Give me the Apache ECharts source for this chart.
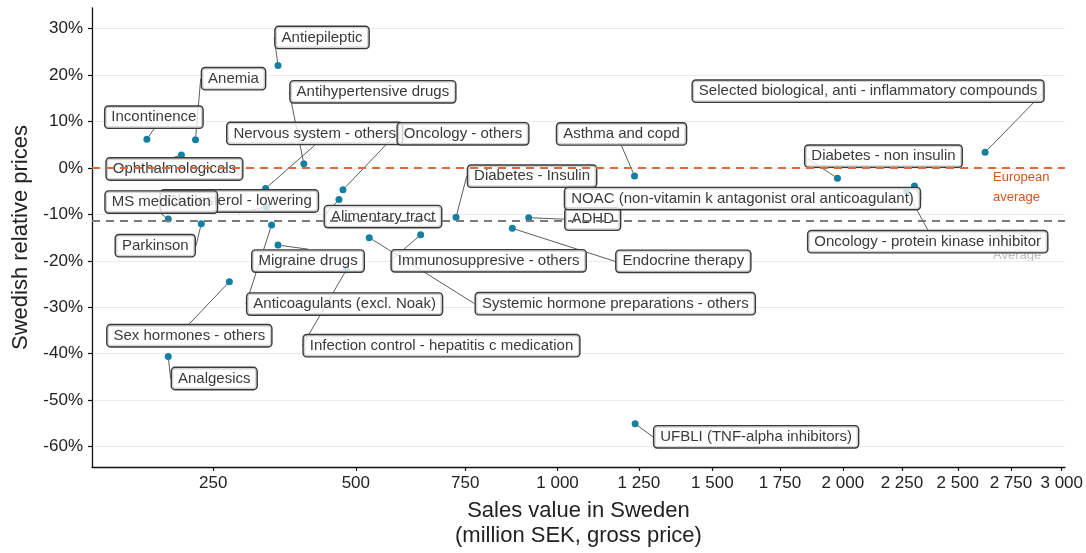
<!DOCTYPE html>
<html><head><meta charset="utf-8">
<script src="https://cdn.jsdelivr.net/npm/echarts@6/dist/echarts.min.js"></script>
<style>html,body{margin:0;padding:0;background:#fff}#c{width:1086px;height:553px}</style>
</head><body><div id="c"></div>
<script>
// ---- data ----
const categories = [
  "Antiepileptic","Anemia","Incontinence","Ophthalmologicals","Antihypertensive drugs",
  "Nervous system - others","Oncology - others","Alimentary tract","Cholesterol - lowering",
  "MS medication","Parkinson","Anticoagulants (excl. Noak)","Migraine drugs",
  "Infection control - hepatitis c medication","Immunosuppresive - others",
  "Systemic hormone preparations - others","Diabetes - Insulin","ADHD","Endocrine therapy",
  "Asthma and copd","Selected biological, anti - inflammatory compounds","Diabetes - non insulin",
  "NOAC (non-vitamin k antagonist oral anticoagulant)","Oncology - protein kinase inhibitor",
  "UFBLI (TNF-alpha inhibitors)","Sex hormones - others","Analgesics"
];
const salesValue = [353,225,163,206,399,332,474,466,333,189,233,342,353,481,642,528,727,918,873,1236,2627,1978,2305,2271,1238,274,189];
const relativePrice = [22.1,6.1,6.2,2.8,0.9,-4.4,-4.7,-6.8,-8.4,-11.0,-12.0,-12.3,-16.6,-21.9,-14.4,-15.0,-10.6,-10.7,-13.0,-1.7,3.4,-2.2,-3.9,-5.0,-55.1,-24.5,-40.6];
const xTicks = [250,500,750,1000,1250,1500,1750,2000,2250,2500,2750,3000];
const yTicks = [-60,-50,-40,-30,-20,-10,0,10,20,30];
const europeanAverage = 0;
const swedishAverage = -11.4;

// label nudges (pixels, label centre relative to point)
const labelNudge = [
  [44,-28],[38,-61],[7,-22],[-7,14],[69,-72],
  [49,-55],[120,-56],[44,17],[-27,-6],
  [-7,-17],[-46,22],[73,79],[30,16],
  [95,76],[68,26],
  [246,66],[76,-41],[64,1.5],[171,33],
  [-13,-42],[-117,-61],[46,-22],
  [-172,12.5],[21,50.5],
  [121,13],[-40,54],[46,22]
];

const xLimits = [105, 3016];
const yLimits = [-64.4, 34.46];

const fmtThousands = v => String(Math.round(v)).replace(/\B(?=(\d{3})+(?!\d))/g, ' ');
const FONT = '"Liberation Sans", Arial, sans-serif';

const chart = echarts.init(document.getElementById('c'), null, {renderer: 'canvas'});
chart.setOption({
  animation: false,
  textStyle: {fontFamily: FONT},
  grid: {left: 92, right: 20, top: 8, bottom: 80, containLabel: false},
  xAxis: {
    type: 'value',
    min: Math.sqrt(xLimits[0]), max: Math.sqrt(xLimits[1]),
    name: 'Sales value in Sweden\n(million SEK, gross price)',
    nameLocation: 'middle', nameGap: 31,
    nameTextStyle: {fontSize: 22, color: '#222', lineHeight: 25, fontFamily: FONT},
    axisLine: {show: true, onZero: false, lineStyle: {color: '#111', width: 1.3}},
    axisTick: {show: true, length: 4, customValues: xTicks.map(Math.sqrt), lineStyle: {color: '#111', width: 1.2}},
    axisLabel: {customValues: xTicks.map(Math.sqrt), formatter: v => fmtThousands(v * v),
      fontSize: 17, color: '#222', margin: 8, fontFamily: FONT},
    splitLine: {show: false}
  },
  yAxis: {
    type: 'value',
    min: yLimits[0], max: yLimits[1],
    name: 'Swedish relative prices',
    nameLocation: 'middle', nameGap: 50,
    nameTextStyle: {fontSize: 22, color: '#222', fontFamily: FONT},
    axisLine: {show: true, lineStyle: {color: '#111', width: 1.3}},
    axisTick: {show: true, length: 4, customValues: yTicks, lineStyle: {color: '#111', width: 1.2}},
    axisLabel: {customValues: yTicks, formatter: v => Math.round(v) + '%',
      fontSize: 17, color: '#222', margin: 9, fontFamily: FONT},
    splitLine: {show: true, lineStyle: {color: '#ebebeb', width: 1.2}}
  },
  graphic: [
    {type: 'text', z: 0, left: 993, top: 167, style: {text: 'European\naverage', fill: '#D0561F', fontSize: 13, lineHeight: 20, align: 'center', font: '13px ' + FONT, x: 26}},
    {type: 'text', z: 0, left: 993, top: 224, style: {text: 'Swedish\nAverage', fill: '#bdbdbd', fontSize: 13, lineHeight: 21, align: 'center', font: '13px ' + FONT, x: 26}}
  ],
  series: [{
    type: 'scatter',
    symbolSize: 7,
    itemStyle: {color: '#1380A1', opacity: 1},
    emphasis: {disabled: true},
    data: categories.map((n, i) => [Math.sqrt(salesValue[i]), relativePrice[i], n]),
    label: {
      show: true, position: 'inside',
      formatter: p => p.data[2],
      fontSize: 15, lineHeight: 15, color: '#3a3a3a', fontFamily: FONT,
      backgroundColor: 'rgba(255,255,255,0.78)',
      borderColor: '#3a3a3a', borderWidth: 1.4, borderRadius: 3,
      padding: [3, 6, 3, 6]
    },
    labelLine: {show: true, lineStyle: {color: '#333', width: 0.8}},
    labelLayout: p => ({dx: labelNudge[p.dataIndex][0], dy: labelNudge[p.dataIndex][1]}),
    markLine: {
      silent: true, symbol: 'none', animation: false,
      label: {show: false},
      data: [
        {yAxis: europeanAverage, lineStyle: {color: '#D9693F', type: [8, 6], width: 2}},
        {yAxis: swedishAverage, lineStyle: {color: '#7a7a7a', type: [8, 6], width: 2}}
      ]
    }
  }]
});
</script>
</body></html>
